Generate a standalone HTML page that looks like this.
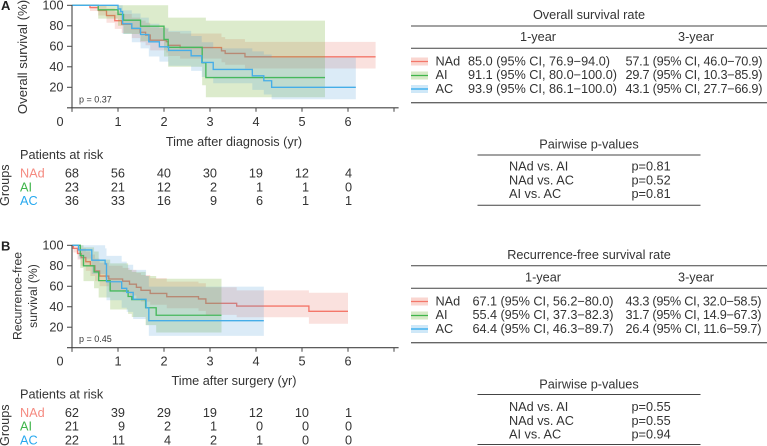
<!DOCTYPE html>
<html lang="en">
<head>
<meta charset="utf-8">
<title>Survival curves</title>
<style>
html,body{margin:0;padding:0;background:#fff;}
svg{display:block;}
text{font-family:"Liberation Sans",Arial,sans-serif;font-size:12.7px;fill:#333;}
.c{text-anchor:middle;}
.r{text-anchor:end;}
.rule{stroke:#444;stroke-width:1;}
.rule-b{stroke:#666;stroke-width:1.4;}
</style>
</head>
<body>
<svg id="fig" width="767" height="446" viewBox="0 0 767 446" xmlns="http://www.w3.org/2000/svg">
<g id="panelA"></g>
<g id="panelB"></g>

<text x="1" y="10" style="font-weight:bold;font-size:13px;fill:#222">A</text>
<text x="1" y="250.5" style="font-weight:bold;font-size:13px;fill:#222">B</text>

<text transform="translate(27 57) rotate(-90)" class="c" style="font-size:13.2px">Overall survival (%)</text>
<text transform="translate(21.5 296) rotate(-90)" class="c" style="font-size:12.2px">Recurrence-free</text>
<text transform="translate(37 296) rotate(-90)" class="c" style="font-size:12.2px">survival (%)</text>
<text x="234" y="146" class="c">Time after diagnosis (yr)</text>
<text x="234" y="385" class="c">Time after surgery (yr)</text>
<text x="79" y="102.5" style="font-size:9px">p = 0.37</text>
<text x="79" y="342" style="font-size:9px">p = 0.45</text>

<g>
<text x="20" y="159">Patients at risk</text>
<text transform="translate(9 206) rotate(-90)">Groups</text>
<text x="20" y="177.5" style="fill:#f58a80">NAd</text>
<text x="20" y="191.5" style="fill:#3fb54a">AI</text>
<text x="20" y="205" style="fill:#27a9ef">AC</text>
<g class="r" text-anchor="end">
<text x="79" y="177.5">68</text><text x="125" y="177.5">56</text><text x="171" y="177.5">40</text><text x="217" y="177.5">30</text><text x="263" y="177.5">19</text><text x="309" y="177.5">12</text><text x="352" y="177.5">4</text>
<text x="79" y="191.5">23</text><text x="125" y="191.5">21</text><text x="171" y="191.5">12</text><text x="217" y="191.5">2</text><text x="263" y="191.5">1</text><text x="309" y="191.5">1</text><text x="352" y="191.5">0</text>
<text x="79" y="205">36</text><text x="125" y="205">33</text><text x="171" y="205">16</text><text x="217" y="205">9</text><text x="263" y="205">6</text><text x="309" y="205">1</text><text x="352" y="205">1</text>
</g>
</g>

<g>
<text x="20" y="398.5">Patients at risk</text>
<text transform="translate(9 446) rotate(-90)">Groups</text>
<text x="20" y="417" style="fill:#f58a80">NAd</text>
<text x="20" y="430.5" style="fill:#3fb54a">AI</text>
<text x="20" y="444.5" style="fill:#27a9ef">AC</text>
<g class="r" text-anchor="end">
<text x="79" y="417">62</text><text x="125" y="417">39</text><text x="171" y="417">29</text><text x="217" y="417">19</text><text x="263" y="417">12</text><text x="309" y="417">10</text><text x="352" y="417">1</text>
<text x="79" y="430.5">21</text><text x="125" y="430.5">9</text><text x="171" y="430.5">2</text><text x="217" y="430.5">1</text><text x="263" y="430.5">0</text><text x="309" y="430.5">0</text><text x="352" y="430.5">0</text>
<text x="79" y="444.5">22</text><text x="125" y="444.5">11</text><text x="171" y="444.5">4</text><text x="217" y="444.5">2</text><text x="263" y="444.5">1</text><text x="309" y="444.5">0</text><text x="352" y="444.5">0</text>
</g>
</g>

<g>
<text x="589" y="19" class="c">Overall survival rate</text>
<line x1="411" x2="767" y1="26" y2="26" class="rule"/>
<text x="538" y="41" class="c">1-year</text>
<text x="696" y="41" class="c">3-year</text>
<line x1="411" x2="767" y1="48.3" y2="48.3" class="rule"/>
<rect x="411" y="57.5" width="17" height="8" fill="#fad6d0"/><line x1="411" x2="428" y1="61.5" y2="61.5" stroke="#f4776a" stroke-width="1.2"/>
<rect x="411" y="71.5" width="17" height="8" fill="#d6e9c6"/><line x1="411" x2="428" y1="75.5" y2="75.5" stroke="#3fb54a" stroke-width="1.2"/>
<rect x="411" y="85" width="17" height="8" fill="#cfe8f8"/><line x1="411" x2="428" y1="89" y2="89" stroke="#27a9ef" stroke-width="1.2"/>
<text x="435.5" y="65.5">NAd</text><text x="435.5" y="79">AI</text><text x="435.5" y="93">AC</text>
<text x="468" y="65.5" textLength="142" lengthAdjust="spacing">85.0 (95% CI, 76.9−94.0)</text>
<text x="468" y="79" textLength="149" lengthAdjust="spacing">91.1 (95% CI, 80.0−100.0)</text>
<text x="468" y="93" textLength="149" lengthAdjust="spacing">93.9 (95% CI, 86.1−100.0)</text>
<text x="625.5" y="65.5" textLength="137" lengthAdjust="spacing">57.1 (95% CI, 46.0−70.9)</text>
<text x="625.5" y="79" textLength="137" lengthAdjust="spacing">29.7 (95% CI, 10.3−85.9)</text>
<text x="625.5" y="93" textLength="137" lengthAdjust="spacing">43.1 (95% CI, 27.7−66.9)</text>
<line x1="411" x2="767" y1="102.7" y2="102.7" class="rule-b"/>
</g>

<g>
<text x="589" y="148.7" class="c">Pairwise p-values</text>
<line x1="477.5" x2="700.5" y1="155" y2="155" class="rule"/>
<text x="509" y="170.5">NAd vs. AI</text><text x="631.5" y="170.5">p=0.81</text>
<text x="509" y="184.5">NAd vs. AC</text><text x="631.5" y="184.5">p=0.52</text>
<text x="509" y="198">AI vs. AC</text><text x="631.5" y="198">p=0.81</text>
<line x1="477.5" x2="700.5" y1="205.3" y2="205.3" class="rule"/>
</g>

<g>
<text x="589" y="259" class="c">Recurrence-free survival rate</text>
<line x1="411" x2="767" y1="265.7" y2="265.7" class="rule"/>
<text x="543" y="281.3" class="c">1-year</text>
<text x="696" y="281.3" class="c">3-year</text>
<line x1="411" x2="767" y1="288.3" y2="288.3" class="rule"/>
<rect x="411" y="297.5" width="17" height="8" fill="#fad6d0"/><line x1="411" x2="428" y1="301.5" y2="301.5" stroke="#f4776a" stroke-width="1.2"/>
<rect x="411" y="311.5" width="17" height="8" fill="#d6e9c6"/><line x1="411" x2="428" y1="315.5" y2="315.5" stroke="#3fb54a" stroke-width="1.2"/>
<rect x="411" y="325" width="17" height="8" fill="#cfe8f8"/><line x1="411" x2="428" y1="329" y2="329" stroke="#27a9ef" stroke-width="1.2"/>
<text x="435.5" y="305.5">NAd</text><text x="435.5" y="319">AI</text><text x="435.5" y="333">AC</text>
<text x="472.5" y="305.5" textLength="141" lengthAdjust="spacing">67.1 (95% CI, 56.2−80.0)</text>
<text x="472.5" y="319" textLength="141" lengthAdjust="spacing">55.4 (95% CI, 37.3−82.3)</text>
<text x="472.5" y="333" textLength="141" lengthAdjust="spacing">64.4 (95% CI, 46.3−89.7)</text>
<text x="625.5" y="305.5" textLength="136" lengthAdjust="spacing">43.3 (95% CI, 32.0−58.5)</text>
<text x="625.5" y="319" textLength="136" lengthAdjust="spacing">31.7 (95% CI, 14.9−67.3)</text>
<text x="625.5" y="333" textLength="136" lengthAdjust="spacing">26.4 (95% CI, 11.6−59.7)</text>
<line x1="411" x2="767" y1="342.7" y2="342.7" class="rule-b"/>
</g>

<g>
<text x="589" y="388.7" class="c">Pairwise p-values</text>
<line x1="477.5" x2="700.5" y1="394.5" y2="394.5" class="rule"/>
<text x="509" y="411">NAd vs. AI</text><text x="631.5" y="411">p=0.55</text>
<text x="509" y="425">NAd vs. AC</text><text x="631.5" y="425">p=0.55</text>
<text x="509" y="438.5">AI vs. AC</text><text x="631.5" y="438.5">p=0.94</text>
<line x1="477.5" x2="700.5" y1="444.5" y2="444.5" class="rule"/>
</g>
</svg>

<script>
const xTickLabels = [0, 1, 2, 3, 4, 5, 6, 7];
const xTickNumbered = [0, 1, 2, 3, 4, 5, 6];
const yTickLabels = [100, 80, 60, 40, 20];

/* Panel A: overall survival */
const aNAdTime  = [0, 0.39, 0.57, 0.75, 0.93, 1.08, 1.3, 1.48, 1.6, 1.7, 2.05, 2.09, 2.35, 3.25, 3.33, 3.76, 6.6];
const aNAdSurv  = [100, 97.8, 95, 90, 85, 81.5, 77.3, 73.7, 71, 66, 64.5, 61, 58.8, 55.6, 53, 49.7, 49.7];
const aNAdLower = [100, 94.5, 90, 83, 77, 73, 68, 64, 61, 56, 54, 50.5, 48, 44.5, 42, 38.3, 38.3];
const aNAdUpper = [100, 100, 100, 97, 94, 91.5, 88, 85, 83, 78.5, 77, 74, 72.5, 69, 67, 64.3, 64.3];

const aAITime  = [0, 0.57, 1.0, 1.12, 1.49, 2.0, 2.09, 2.83, 2.91, 5.5];
const aAISurv  = [100, 95.6, 91.1, 85.5, 79.6, 66.7, 59, 44, 29.5, 29.5];
const aAILower = [100, 87, 80, 72, 65, 50, 40, 22, 10.3, 10.3];
const aAIUpper = [100, 100, 100, 100, 100, 100, 88, 88, 85, 85];

const aACTime  = [0, 1.0, 1.06, 1.1, 1.3, 1.49, 1.67, 1.9, 2.1, 2.59, 2.82, 3.07, 3.92, 4.17, 4.34, 6.17];
const aACSurv  = [100, 96.5, 93.9, 82, 77.5, 71.5, 64.4, 59.5, 56, 50.7, 44.3, 37.4, 31.2, 26.4, 20, 20];
const aACLower = [100, 91, 86, 72, 64, 58, 50, 45, 41, 36, 30, 24, 17.5, 13, 8.3, 8.3];
const aACUpper = [100, 100, 100, 95, 92, 88, 82, 78, 75, 70, 64, 58, 55, 52, 49, 49];

/* Panel B: recurrence-free survival */
const bNAdTime  = [0, 0.03, 0.12, 0.2, 0.3, 0.4, 0.5, 0.6, 0.8, 1.1, 1.25, 1.4, 1.5, 1.7, 2.06, 2.75, 2.91, 3.58, 5.15, 6.0];
const bNAdSurv  = [100, 97, 92, 88, 84, 80, 75, 70, 67.1, 65, 62, 59, 56, 53, 49.8, 47.6, 43.3, 40.7, 35.5, 35.5];
const bNAdLower = [100, 93, 86, 80, 75, 70, 65, 60, 56.2, 54, 51, 48, 45, 42, 38.5, 36, 32, 29.7, 23.4, 23.4];
const bNAdUpper = [100, 100, 99, 97, 94, 91, 87, 83, 80, 78, 76, 73, 71, 68, 64.5, 63, 59, 56, 53.7, 53.7];

const bAITime  = [0, 0.18, 0.25, 0.48, 0.58, 0.83, 1.22, 1.3, 1.6, 1.83, 3.25];
const bAISurv  = [100, 90, 80, 74, 65.5, 55.4, 50, 47, 39, 31.7, 31.7];
const bAILower = [100, 78, 65, 58, 49, 37.3, 33, 30, 22, 14.9, 14.9];
const bAIUpper = [100, 100, 98, 94, 86, 82.3, 76, 74, 70, 67.3, 67.3];

const bACTime  = [0, 0.14, 0.43, 0.72, 0.75, 1.08, 1.19, 1.33, 1.61, 1.67, 4.17];
const bACSurv  = [100, 95.5, 85.5, 81.8, 64.4, 58, 54, 47.3, 39, 26.4, 26.4];
const bACLower = [100, 87, 72, 68, 46.3, 39, 35, 28, 22, 11.6, 11.6];
const bACUpper = [100, 100, 100, 97, 89.7, 84, 81, 76, 70, 59.7, 59.7];

const NS = 'http://www.w3.org/2000/svg';
const xScale = function (t) { return 72 + 46 * t; };
const yScaleA = function (s) { return 107.8 - 1.025 * s; };
const yScaleB = function (s) { return 347.7 - 1.024 * s; };

function stepPoints(times, vals, yScale) {
  const pts = [];
  for (let i = 0; i < times.length; i++) {
    if (i > 0) pts.push([xScale(times[i]), yScale(vals[i - 1])]);
    pts.push([xScale(times[i]), yScale(vals[i])]);
  }
  return pts;
}

function ptsAttr(pts) {
  return pts.map(function (p) { return p[0].toFixed(2) + ',' + p[1].toFixed(2); }).join(' ');
}

function drawAxes(parent, yScale, prefix) {
  const y0 = yScale(0);
  const xAxis = document.createElementNS(NS, 'line');
  
  
  xAxis.setAttribute('x1', 67); xAxis.setAttribute('x2', xScale(7.1));
  xAxis.setAttribute('y1', y0); xAxis.setAttribute('y2', y0);
  xAxis.setAttribute('stroke', '#444'); xAxis.setAttribute('stroke-width', 1.1);
  parent.appendChild(xAxis);

  const yAxis = document.createElementNS(NS, 'line');
  
  
  yAxis.setAttribute('x1', 72); yAxis.setAttribute('x2', 72);
  yAxis.setAttribute('y1', yScale(100)); yAxis.setAttribute('y2', y0 + 4);
  yAxis.setAttribute('stroke', '#333'); yAxis.setAttribute('stroke-width', 1);
  parent.appendChild(yAxis);

  xTickLabels.forEach(function (v) {
    const tick = document.createElementNS(NS, 'line');
    
    
    tick.setAttribute('x1', xScale(v)); tick.setAttribute('x2', xScale(v));
    tick.setAttribute('y1', y0); tick.setAttribute('y2', y0 + 4);
    tick.setAttribute('stroke', '#444'); tick.setAttribute('stroke-width', 1);
    parent.appendChild(tick);
  });

  xTickNumbered.forEach(function (v) {
    const label = document.createElementNS(NS, 'text');
    
    
    label.setAttribute('x', v === 0 ? 60 : xScale(v));
    label.setAttribute('y', y0 + 18);
    label.setAttribute('text-anchor', 'middle');
    label.textContent = v;
    parent.appendChild(label);
  });

  yTickLabels.forEach(function (v) {
    const tick = document.createElementNS(NS, 'line');
    
    
    tick.setAttribute('x1', 67); tick.setAttribute('x2', 72);
    tick.setAttribute('y1', yScale(v)); tick.setAttribute('y2', yScale(v));
    tick.setAttribute('stroke', '#444'); tick.setAttribute('stroke-width', 1);
    parent.appendChild(tick);

    const label = document.createElementNS(NS, 'text');
    
    
    label.setAttribute('x', 63.5);
    label.setAttribute('y', yScale(v) + 4.3);
    label.setAttribute('text-anchor', 'end');
    label.textContent = v;
    parent.appendChild(label);
  });
}

function drawBand(parent, yScale, prefix, group, times, lower, upper, bandColor, bandOpacity) {
  const up = stepPoints(times, upper, yScale);
  const low = stepPoints(times, lower, yScale).reverse();
  const band = document.createElementNS(NS, 'polygon');
  
  
  band.setAttribute('points', ptsAttr(up.concat(low)));
  band.setAttribute('fill', bandColor);
  band.setAttribute('fill-opacity', bandOpacity);
  parent.appendChild(band);
}

function drawLine(parent, yScale, prefix, group, times, surv, lineColor) {
  const line = document.createElementNS(NS, 'polyline');
  
  
  line.setAttribute('points', ptsAttr(stepPoints(times, surv, yScale)));
  line.setAttribute('fill', 'none');
  line.setAttribute('stroke', lineColor);
  line.setAttribute('stroke-width', 1.35);
  parent.appendChild(line);
}

const redLine = '#f4776a', redBand = 'rgb(225,90,70)';
const greenLine = '#46b85c', greenBand = 'rgb(115,175,50)';
const blueLine = '#45ade8', blueBand = 'rgb(75,155,215)';

const gA = document.getElementById('panelA');
drawBand(gA, yScaleA, 'os', 'nad', aNAdTime, aNAdLower, aNAdUpper, redBand, 0.18);
drawLine(gA, yScaleA, 'os', 'nad', aNAdTime, aNAdSurv, redLine);
drawBand(gA, yScaleA, 'os', 'ai', aAITime, aAILower, aAIUpper, greenBand, 0.25);
drawBand(gA, yScaleA, 'os', 'ac', aACTime, aACLower, aACUpper, blueBand, 0.2);
drawLine(gA, yScaleA, 'os', 'ai', aAITime, aAISurv, greenLine);
drawLine(gA, yScaleA, 'os', 'ac', aACTime, aACSurv, blueLine);
drawAxes(gA, yScaleA, 'os');

const gB = document.getElementById('panelB');
drawBand(gB, yScaleB, 'rfs', 'nad', bNAdTime, bNAdLower, bNAdUpper, redBand, 0.18);
drawLine(gB, yScaleB, 'rfs', 'nad', bNAdTime, bNAdSurv, redLine);
drawBand(gB, yScaleB, 'rfs', 'ai', bAITime, bAILower, bAIUpper, greenBand, 0.25);
drawBand(gB, yScaleB, 'rfs', 'ac', bACTime, bACLower, bACUpper, blueBand, 0.2);
drawLine(gB, yScaleB, 'rfs', 'ai', bAITime, bAISurv, greenLine);
drawLine(gB, yScaleB, 'rfs', 'ac', bACTime, bACSurv, blueLine);
drawAxes(gB, yScaleB, 'rfs');
</script>
</body>
</html>
